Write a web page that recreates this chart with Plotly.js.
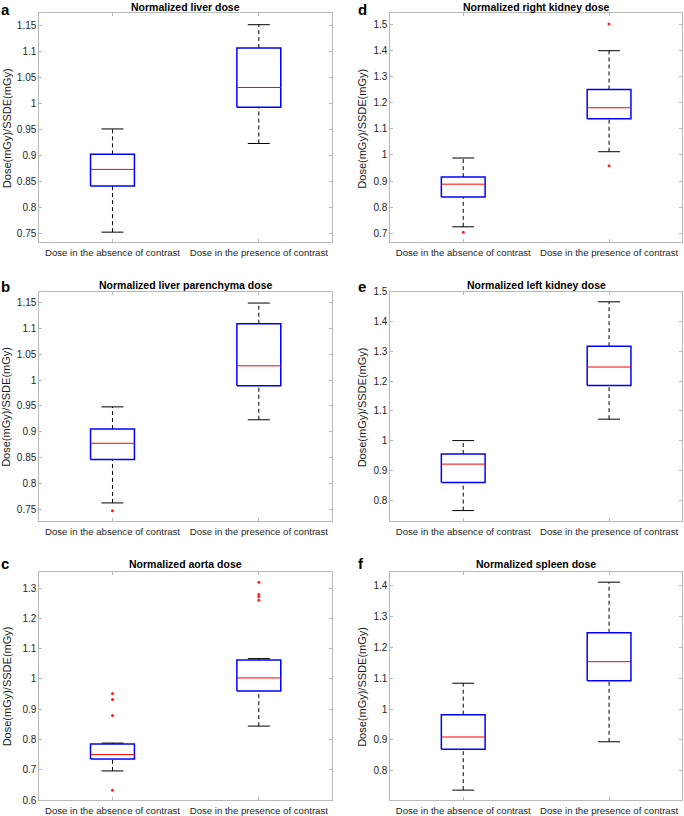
<!DOCTYPE html>
<html>
<head>
<meta charset="utf-8">
<script src="https://cdn.plot.ly/plotly-3.0.1.min.js"></script>
<style>html,body{margin:0;padding:0;background:#fff;}#chart{width:684px;height:816px;}</style>
</head>
<body>
<div id="chart"></div>
<script>
// ---------- DATA (panels a, b, c, d, e, f) ----------
const panelLetters = ['a', 'b', 'c', 'd', 'e', 'f'];
const panelTitles = [
  'Normalized liver dose',
  'Normalized liver parenchyma dose',
  'Normalized aorta dose',
  'Normalized right kidney dose',
  'Normalized left kidney dose',
  'Normalized spleen dose'
];
const categories = ['Dose in the absence of contrast', 'Dose in the presence of contrast'];
const yAxisTitle = 'Dose(mGy)/SSDE(mGy)';

// per panel: [absence, presence]
const lowerWhisker = [[0.752, 0.923], [0.762, 0.923], [0.696, 0.844], [0.725, 1.012], [0.765, 1.072], [0.737, 0.894]];
const quartile1    = [[0.841, 0.993], [0.846, 0.989], [0.735, 0.960], [0.839, 1.138], [0.859, 1.185], [0.870, 1.092]];
const medians      = [[0.873, 1.031], [0.8775, 1.0275], [0.750, 1.003], [0.888, 1.180], [0.921, 1.247], [0.9095, 1.154]];
const quartile3    = [[0.902, 1.107], [0.905, 1.109], [0.785, 1.062], [0.915, 1.250], [0.955, 1.317], [0.982, 1.248]];
const upperWhisker = [[0.951, 1.152], [0.948, 1.149], [0.788, 1.067], [0.988, 1.398], [1.000, 1.466], [1.084, 1.412]];
const outliersAbsence  = [[], [0.747], [0.952, 0.932, 0.879, 0.632], [0.704], [], []];
const outliersPresence = [[], [], [1.319, 1.279, 1.271, 1.260], [1.500, 0.958], [], []];

const yRanges = [[0.733, 1.174], [0.727, 1.171], [0.6, 1.354], [0.667, 1.541], [0.730, 1.5], [0.705, 1.446]];
const yTickValues = [
  [0.75, 0.8, 0.85, 0.9, 0.95, 1, 1.05, 1.1, 1.15],
  [0.75, 0.8, 0.85, 0.9, 0.95, 1, 1.05, 1.1, 1.15],
  [0.6, 0.7, 0.8, 0.9, 1, 1.1, 1.2, 1.3],
  [0.7, 0.8, 0.9, 1, 1.1, 1.2, 1.3, 1.4, 1.5],
  [0.8, 0.9, 1, 1.1, 1.2, 1.3, 1.4, 1.5],
  [0.8, 0.9, 1, 1.1, 1.2, 1.3, 1.4]
];
const categoryPositions = [1, 2];

// ---------- LAYOUT GEOMETRY ----------
const W = 684, H = 816;
const colX = [[39.3, 332], [390.3, 682]];
const rowY = [[13.3, 242], [291.7, 521], [571.7, 800]];
const titleMidY = [6.6, 285.2, 564.4];
const letterTopY = [0, 276.5, 554];
const letterX = [0, 357];
const yTitleX = [6.5, 362];
const px = x => x / W;
const py = y => 1 - y / H;

const FONT = '"Liberation Sans", Arial, Helvetica, sans-serif';
const BOX_HALF = 0.15, CAP_HALF = 0.075;
const axisGray = '#b8b8b8';

const traces = [];
const layout = {
  width: W, height: H,
  margin: {l: 0, r: 0, t: 0, b: 0},
  paper_bgcolor: '#fff', plot_bgcolor: '#fff',
  showlegend: false,
  font: {family: FONT, color: '#262626'},
  annotations: []
};

for (let i = 0; i < 6; i++) {
  const col = i < 3 ? 0 : 1;
  const row = i % 3;
  const n = i + 1;
  const xa = 'x' + (n === 1 ? '' : n);
  const ya = 'y' + (n === 1 ? '' : n);
  const xKey = 'xaxis' + (n === 1 ? '' : n);
  const yKey = 'yaxis' + (n === 1 ? '' : n);

  const axisCommon = {
    showline: true, linecolor: axisGray, linewidth: 1, mirror: 'ticks',
    ticks: 'inside', ticklen: 3, tickcolor: axisGray, tickwidth: 1,
    showgrid: false, zeroline: false, fixedrange: true
  };
  layout[xKey] = Object.assign({}, axisCommon, {
    domain: [px(colX[col][0]), px(colX[col][1])],
    anchor: ya, range: [0.5, 2.5],
    tickvals: categoryPositions, ticktext: categories,
    ticklabelstandoff: 1,
    tickfont: {family: FONT, size: 9.6, color: '#262626'}
  });
  layout[yKey] = Object.assign({}, axisCommon, {
    domain: [py(rowY[row][1]), py(rowY[row][0])],
    anchor: xa, range: yRanges[i],
    tickvals: yTickValues[i], ticktext: yTickValues[i].map(String),
    tickfont: {family: FONT, size: 10, color: '#262626'}
  });

  for (let k = 0; k < 2; k++) {
    const c = categoryPositions[k];
    // dashed whiskers
    traces.push({
      type: 'scatter', mode: 'lines', xaxis: xa, yaxis: ya,
      x: [c, c, null, c, c],
      y: [quartile3[i][k], upperWhisker[i][k], null, lowerWhisker[i][k], quartile1[i][k]],
      line: {color: '#000', width: 1, dash: '4px,3px'},
      hoverinfo: 'skip'
    });
    // whisker caps
    traces.push({
      type: 'scatter', mode: 'lines', xaxis: xa, yaxis: ya,
      x: [c - CAP_HALF, c + CAP_HALF, null, c - CAP_HALF, c + CAP_HALF],
      y: [upperWhisker[i][k], upperWhisker[i][k], null, lowerWhisker[i][k], lowerWhisker[i][k]],
      line: {color: '#000', width: 1},
      hoverinfo: 'skip'
    });
    // blue box (q1..q3)
    traces.push({
      type: 'scatter', mode: 'lines', xaxis: xa, yaxis: ya,
      x: [c - BOX_HALF, c + BOX_HALF, c + BOX_HALF, c - BOX_HALF, c - BOX_HALF],
      y: [quartile1[i][k], quartile1[i][k], quartile3[i][k], quartile3[i][k], quartile1[i][k]],
      line: {color: '#0000ff', width: 1.5},
      hoverinfo: 'skip'
    });
    // red median
    traces.push({
      type: 'scatter', mode: 'lines', xaxis: xa, yaxis: ya,
      x: [c - BOX_HALF, c + BOX_HALF],
      y: [medians[i][k], medians[i][k]],
      line: {color: '#ff0000', width: 1},
      hoverinfo: 'skip'
    });
  }
  // outliers
  const outY = outliersAbsence[i].concat(outliersPresence[i]);
  const outX = outliersAbsence[i].map(() => categoryPositions[0])
    .concat(outliersPresence[i].map(() => categoryPositions[1]));
  if (outY.length) {
    traces.push({
      type: 'scatter', mode: 'markers', xaxis: xa, yaxis: ya,
      x: outX, y: outY,
      marker: {symbol: 'circle', size: 3, color: '#ff2020', line: {width: 0}},
      hoverinfo: 'skip'
    });
  }

  // subplot title
  layout.annotations.push({
    text: '<b>' + panelTitles[i] + '</b>',
    xref: 'paper', yref: 'paper',
    x: px((colX[col][0] + colX[col][1]) / 2), y: py(titleMidY[row]),
    xanchor: 'center', yanchor: 'middle', showarrow: false,
    font: {family: FONT, size: 10.5, color: '#000'}
  });
  // panel letter
  layout.annotations.push({
    text: '<b>' + panelLetters[i] + '</b>',
    xref: 'paper', yref: 'paper',
    x: px(letterX[col]), y: py(letterTopY[row]),
    xanchor: 'left', yanchor: 'top', showarrow: false, borderpad: 0,
    font: {family: FONT, size: 15, color: '#000'}
  });
  // y axis title
  layout.annotations.push({
    text: yAxisTitle, textangle: -90,
    xref: 'paper', yref: 'paper',
    x: px(yTitleX[col]), y: py((rowY[row][0] + rowY[row][1]) / 2 + 1),
    xanchor: 'center', yanchor: 'middle', showarrow: false, borderpad: 0,
    font: {family: FONT, size: 11, color: '#1a1a1a'}
  });
}

Plotly.newPlot('chart', traces, layout, {staticPlot: true, displayModeBar: false});
</script>
</body>
</html>
